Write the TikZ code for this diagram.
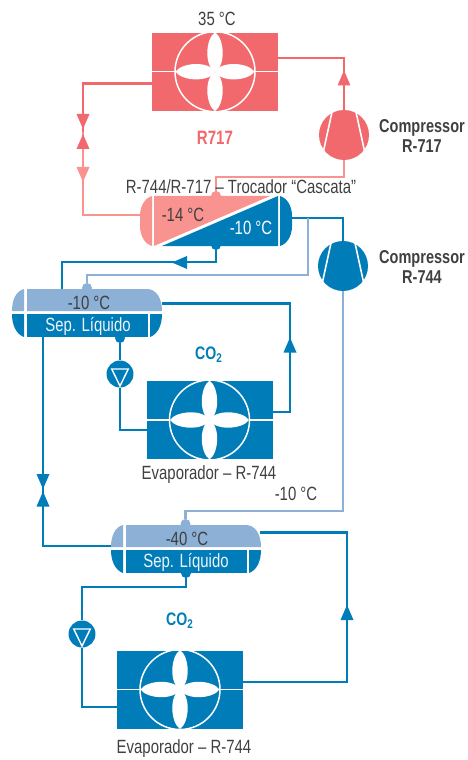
\documentclass[tikz,border=0pt]{standalone}
\usepackage{fontspec}
\setmainfont[FakeStretch=0.78]{Liberation Sans}
\usetikzlibrary{arrows.meta}
\definecolor{redfan}{HTML}{F2696D}
\definecolor{redpale}{HTML}{F8938F}
\definecolor{bluefan}{HTML}{007DB8}
\definecolor{bluepale}{HTML}{8CB0D6}
\definecolor{inkgray}{HTML}{404040}
\tikzset{
    % ventilador sobre a serpentina
    fanwheel/.pic={
        \draw[white, line width=0.85pt] (0,0) circle (40);
        \draw[white, line width=0.85pt] (-63,0) -- (-40,0) (40,0) -- (63,0);
        \foreach \ang in {0,90,180,270}
            \fill[white, rotate=\ang] (0,0) .. controls (-11,-6) and (-9.5,-33) .. (0,-39.5)
                .. controls (9.5,-33) and (11,-6) .. (0,0);
    },
    % palhetas do compressor
    compblades/.pic={
        \draw[white, line width=0.9pt] (-12,-23) -- (-20.5,16) (12,-23) -- (20.5,16);
    },
    pumpmark/.pic={
        \draw[white, line width=0.8pt] (-8.3,-5) -- (8.3,-5) -- (0,12) -- cycle;
    },
    tiptri/.pic={
        \fill (-6.5,7.5) -- (6.5,7.5) -- (0,-7.5) -- cycle;
    },
    septank/.pic={
        \fill[bluepale] (12,0) .. controls (4,2) and (0,11) .. (0,22) -- (12,22) -- cycle;
        \fill[bluepale] (15,0) -- (135,0) .. controls (144,0) and (150,9) .. (150,22) -- (15,22) -- cycle;
        \fill[bluefan] (0,25) .. controls (0,36) and (4,45) .. (12,48) -- (12,25) -- cycle;
        \fill[bluefan] (15,25) rectangle (136,48);
        \fill[bluefan] (150,25) .. controls (150,36) and (146,45) .. (138,48) -- (138,25) -- cycle;
    }
}
\begin{document}
\begin{tikzpicture}[x=0.02cm, y=-0.02cm,
    coil/.style={minimum width=2.52cm, minimum height=1.56cm, inner sep=0pt},
    comp/.style={circle, minimum size=1cm, inner sep=0pt},
    pump/.style={circle, minimum size=0.54cm, inner sep=0pt, fill=bluefan},
    port/.style={circle, minimum size=0.2cm, inner sep=0pt, fill=#1},
    redline/.style={draw=redfan, line width=1.3pt},
    palered/.style={draw=redpale, line width=1.3pt},
    blueline/.style={draw=bluefan, line width=1.3pt},
    paleblue/.style={draw=bluepale, line width=1.3pt},
    tag/.style={font=\fontsize{10.9}{12}\selectfont, text=inkgray, inner sep=0pt},
    headline/.style={font=\fontsize{10.6}{11.4}\selectfont\bfseries, text=#1, inner sep=0pt, align=center}]

    \useasboundingbox (0,0) rectangle (467,760);

    % serpentinas
    \node[coil, fill=redfan] (cond) at (215,72) {};
    \node[coil, fill=bluefan] (evapA) at (210,420) {};
    \node[coil, fill=bluefan] (evapB) at (180,690) {};

    % compressores e bombas
    \node[comp, fill=redfan] (compA) at (344,135) {};
    \node[comp, fill=bluefan] (compB) at (343,266) {};
    \node[pump] (pumpA) at (120,374) {};
    \node[pump] (pumpB) at (82,634) {};

    % pontos de ligacao
    \node[port=redpale] (hxTop) at (216,196) {};
    \node[port=bluefan] (hxBot) at (216,245) {};
    \node[port=bluepale] (sepAgas) at (87,288) {};
    \node[port=bluefan] (sepAdrain) at (120,338) {};
    \node[port=bluepale] (sepBgas) at (185.5,524) {};
    \node[port=bluefan] (sepBdrain) at (186,573) {};
    \coordinate (condIn) at (278,58);
    \coordinate (condOut) at (152,83.5);
    \coordinate (valveR) at (83,132);
    \coordinate (hxIn) at (140,215);
    \coordinate (hxOut) at (292,218);
    \coordinate (hxTee) at (308,218);
    \coordinate (bendA) at (62,262);
    \coordinate (bendB) at (87,275);
    \coordinate (bendC) at (185.5,511);
    \coordinate (bendD) at (290,412);
    \coordinate (bendE) at (347,682);
    \coordinate (bendF) at (82,587);
    \coordinate (bendG) at (216,177);
    \coordinate (sepAin) at (62,289);
    \coordinate (sepAvap) at (162,303.5);
    \coordinate (sepAliq) at (43,337);
    \coordinate (sepBin) at (111,546);
    \coordinate (sepBvap) at (260,532.5);
    \coordinate (evapAin) at (147,430);
    \coordinate (evapAout) at (273,412);
    \coordinate (evapBin) at (117,707);
    \coordinate (evapBout) at (243,682);

    % linhas R717
    \draw[redline] (condIn) -| (compA);
    \draw[redline] (condOut) -| (valveR);
    \draw[palered] (valveR) |- (hxIn);
    \draw[palered] (compA) |- (bendG) -- (hxTop);

    % linhas R744
    \draw[blueline] (hxBot) |- (bendA) -- (sepAin);
    \draw[blueline] (hxOut) -| (compB);
    \draw[paleblue] (hxTee) |- (bendB) -- (sepAgas);
    \draw[paleblue] (compB) |- (bendC) -- (sepBgas);
    \draw[blueline] (sepAvap) -| (bendD) -- (evapAout);
    \draw[blueline] (sepAliq) |- (sepBin);
    \draw[blueline] (sepAdrain) -- (pumpA);
    \draw[blueline] (pumpA) |- (evapAin);
    \draw[blueline] (sepBvap) -| (bendE) -- (evapBout);
    \draw[blueline] (sepBdrain) |- (bendF) -- (pumpB);
    \draw[blueline] (pumpB) |- (evapBin);

    % setas e valvulas
    \pic[fill=redfan] at (344,78) {tiptri};
    \pic[fill=redfan, rotate=180] at (83,121.5) {tiptri};
    \pic[fill=redfan] at (83,141.5) {tiptri};
    \pic[fill=redpale, rotate=180] at (83,174.5) {tiptri};
    \pic[fill=bluefan, rotate=90] at (179.5,262.5) {tiptri};
    \pic[fill=bluefan] at (290,345) {tiptri};
    \pic[fill=bluefan, rotate=180] at (43,481.5) {tiptri};
    \pic[fill=bluefan] at (43,499) {tiptri};
    \pic[fill=bluefan] at (347,612.5) {tiptri};

    % desenhos sobre os nos
    \pic at (215,71.7) {fanwheel};
    \pic at (209.5,420) {fanwheel};
    \pic at (180,689.5) {fanwheel};
    \pic at (compA) {compblades};
    \pic at (compB) {compblades};
    \pic at (pumpA) {pumpmark};
    \pic at (pumpB) {pumpmark};

    % trocador cascata
    \fill[redpale] (152,196) .. controls (145,198) and (140,206) .. (140,216)
        -- (140,226) .. controls (140,236) and (145,244) .. (152,246) -- cycle;
    \fill[redpale] (154,196) -- (270,196) -- (154,246) -- cycle;
    \fill[bluefan] (278,196) -- (278,246) -- (162,246) -- cycle;
    \fill[bluefan] (280,196) .. controls (287,198) and (292,206) .. (292,216)
        -- (292,226) .. controls (292,236) and (287,244) .. (280,246) -- cycle;

    % separadores
    \pic at (12,289) {septank};
    \pic at (111,525) {septank};

    % textos
    \node[tag] (tempCond) at (217,19) {35 °C};
    \node[headline=redfan, font=\fontsize{11}{13}\selectfont\bfseries] (nameR) at (215,138) {R717};
    \node[headline=inkgray] (labelA) at (422,136) {Compressor\\R-717};
    \node[headline=inkgray] (labelB) at (422,267) {Compressor\\R-744};
    \node[tag] (labelHx) at (241,187) {R-744/R-717 – Trocador “Cascata”};
    \node[tag] (tempHxR) at (183,215) {-14 °C};
    \node[tag, text=white] (tempHxB) at (251,228) {-10 °C};
    \node[tag] (tempSepA) at (89,303) {-10 °C};
    \node[tag, text=white!85!bluepale] (nameSepA) at (88,326) {Sep. Líquido};
    \node[headline=bluefan, font=\fontsize{10.3}{13}\selectfont\bfseries] (co2A) at (209,355) {CO\textsubscript{2}};
    \node[tag] (labelEvapA) at (209,474.5) {Evaporador – R-744};
    \node[tag] (tempLine) at (296,494) {-10 °C};
    \node[tag] (tempSepB) at (187,539) {-40 °C};
    \node[tag, text=white!85!bluepale] (nameSepB) at (186,562) {Sep. Líquido};
    \node[headline=bluefan, font=\fontsize{10.3}{13}\selectfont\bfseries] (co2B) at (180,621) {CO\textsubscript{2}};
    \node[tag] (labelEvapB) at (184,748.5) {Evaporador – R-744};

\end{tikzpicture}
\end{document}
